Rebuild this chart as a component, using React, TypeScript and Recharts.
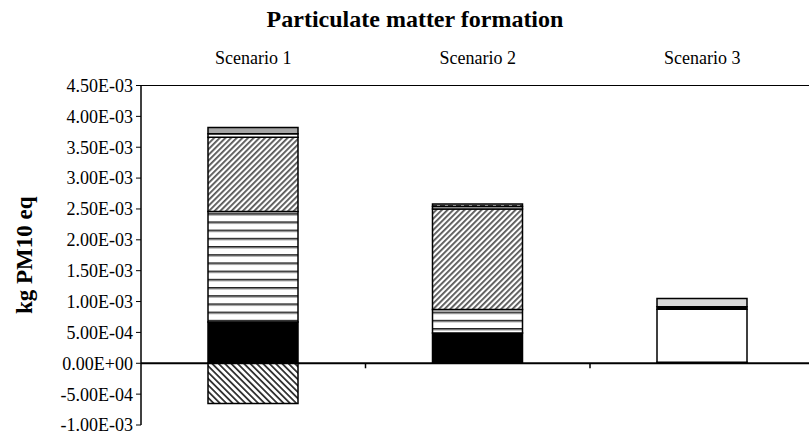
import { BarChart, Bar, XAxis, YAxis, ReferenceLine, Cell } from 'recharts'

const categories = ['Scenario 1', 'Scenario 2', 'Scenario 3']

// stacked segments, bottom to top
const solidBlack = [6.7e-4, 4.9e-4, 1.5e-5]
const horizontalLines = [1.79e-3, 3.8e-4, 0]
const diagonalHatch = [1.2e-3, 1.63e-3, 0]
const whiteBand = [6e-5, 4e-5, 8.6e-4]
const blackBand = [0, 0, 4e-5]
const greyTop = [1.0e-4, 4e-5, 1.36e-4]
const negativeHatch = [-6.5e-4, 0, 0]

const yTicks = [-1e-3, -5e-4, 0, 5e-4, 1e-3, 1.5e-3, 2e-3, 2.5e-3, 3e-3, 3.5e-3, 4e-3, 4.5e-3]
const greyTopFills = ['#a6a6a6', 'url(#dashGrey)', '#d9d9d9']

const data = categories.map((name, i) => ({
  name,
  solidBlack: solidBlack[i],
  horizontalLines: horizontalLines[i],
  diagonalHatch: diagonalHatch[i],
  whiteBand: whiteBand[i],
  blackBand: blackBand[i],
  greyTop: greyTop[i],
  negativeHatch: negativeHatch[i],
}))

const serif = '"Liberation Serif", "Times New Roman", serif'

// 0.00E+00 style labels
function sci(v: number) {
  const [m, e] = v.toExponential(2).split('e')
  const sign = e[0] === '-' ? '-' : '+'
  const digits = e.replace(/[+-]/, '').padStart(2, '0')
  return `${m}E${sign}${digits}`
}

// zero line with category separators hanging below it
function ZeroLine(props: any) {
  const { x1, y1, x2 } = props
  const step = (x2 - x1) / categories.length
  return (
    <g>
      <line x1={x1} y1={y1} x2={x2} y2={y1} stroke="#000" strokeWidth={2} />
      {categories.slice(1).map((_, i) => (
        <line key={i} x1={x1 + step * (i + 1)} y1={y1} x2={x1 + step * (i + 1)} y2={y1 + 5} stroke="#000" strokeWidth={1.5} />
      ))}
    </g>
  )
}

export default function App() {
  const barStroke = { stroke: '#000', strokeWidth: 1.5, isAnimationActive: false }
  return (
    <div style={{ position: 'absolute', left: 0, top: 0, width: 809, height: 435, overflow: 'hidden', background: '#fff' }}>
      <svg width="0" height="0" style={{ position: 'absolute' }}>
        <defs>
          <pattern id="hLines" patternUnits="userSpaceOnUse" width="8" height="8.2">
            <rect width="8" height="8.2" fill="#fff" />
            <rect y="0" width="8" height="1.6" fill="#222" />
            <rect y="1.6" width="8" height="1" fill="#aaa" />
          </pattern>
          <pattern id="fwdHatch" patternUnits="userSpaceOnUse" width="4" height="4" patternTransform="rotate(45)">
            <rect width="4" height="4" fill="#fff" />
            <rect width="1.8" height="4" fill="#555" />
          </pattern>
          <pattern id="backHatch" patternUnits="userSpaceOnUse" width="4.5" height="4.5" patternTransform="rotate(-45)">
            <rect width="4.5" height="4.5" fill="#fff" />
            <rect width="1.8" height="4.5" fill="#333" />
          </pattern>
          <pattern id="dashGrey" patternUnits="userSpaceOnUse" width="8" height="4">
            <rect width="8" height="4" fill="#bbb" />
            <rect width="5" height="1.5" y="1" fill="#333" />
          </pattern>
        </defs>
      </svg>
      <div style={{ position: 'absolute', left: 0, top: 5, width: 830, textAlign: 'center', fontFamily: serif, fontWeight: 'bold', fontSize: 24, lineHeight: '28px' }}>
        Particulate matter formation
      </div>
      <BarChart width={830} height={435} data={data} stackOffset="sign" barSize={90} margin={{ top: 55, right: 15.5, bottom: 10, left: 41 }}>
        <XAxis
          dataKey="name"
          orientation="top"
          height={30.5}
          tickLine={false}
          axisLine={{ stroke: '#000', strokeWidth: 1 }}
          tick={{ fill: '#000', fontSize: 18, fontFamily: serif }}
          tickMargin={16}
        />
        <YAxis
          width={100}
          domain={[-1e-3, 4.5e-3]}
          ticks={yTicks}
          interval={0}
          tickFormatter={sci}
          tickSize={5}
          tickMargin={3}
          axisLine={{ stroke: '#000', strokeWidth: 1.5 }}
          tickLine={{ stroke: '#000' }}
          tick={{ fill: '#000', fontSize: 18, fontFamily: serif }}
          label={{ value: 'kg PM10 eq', angle: -90, position: 'left', offset: 17, style: { textAnchor: 'middle', fontWeight: 'bold', fontSize: 23, fontFamily: serif, fill: '#000' } }}
        />
        <Bar dataKey="solidBlack" stackId="a" fill="#000" {...barStroke} />
        <Bar dataKey="horizontalLines" stackId="a" fill="url(#hLines)" {...barStroke} />
        <Bar dataKey="diagonalHatch" stackId="a" fill="url(#fwdHatch)" {...barStroke} />
        <Bar dataKey="whiteBand" stackId="a" fill="#fff" {...barStroke} />
        <Bar dataKey="blackBand" stackId="a" fill="#000" {...barStroke} />
        <Bar dataKey="greyTop" stackId="a" {...barStroke}>
          {greyTopFills.map((f, i) => (
            <Cell key={i} fill={f} />
          ))}
        </Bar>
        <Bar dataKey="negativeHatch" stackId="a" fill="url(#backHatch)" {...barStroke} />
        <ReferenceLine y={0} shape={ZeroLine} />
      </BarChart>
    </div>
  )
}
